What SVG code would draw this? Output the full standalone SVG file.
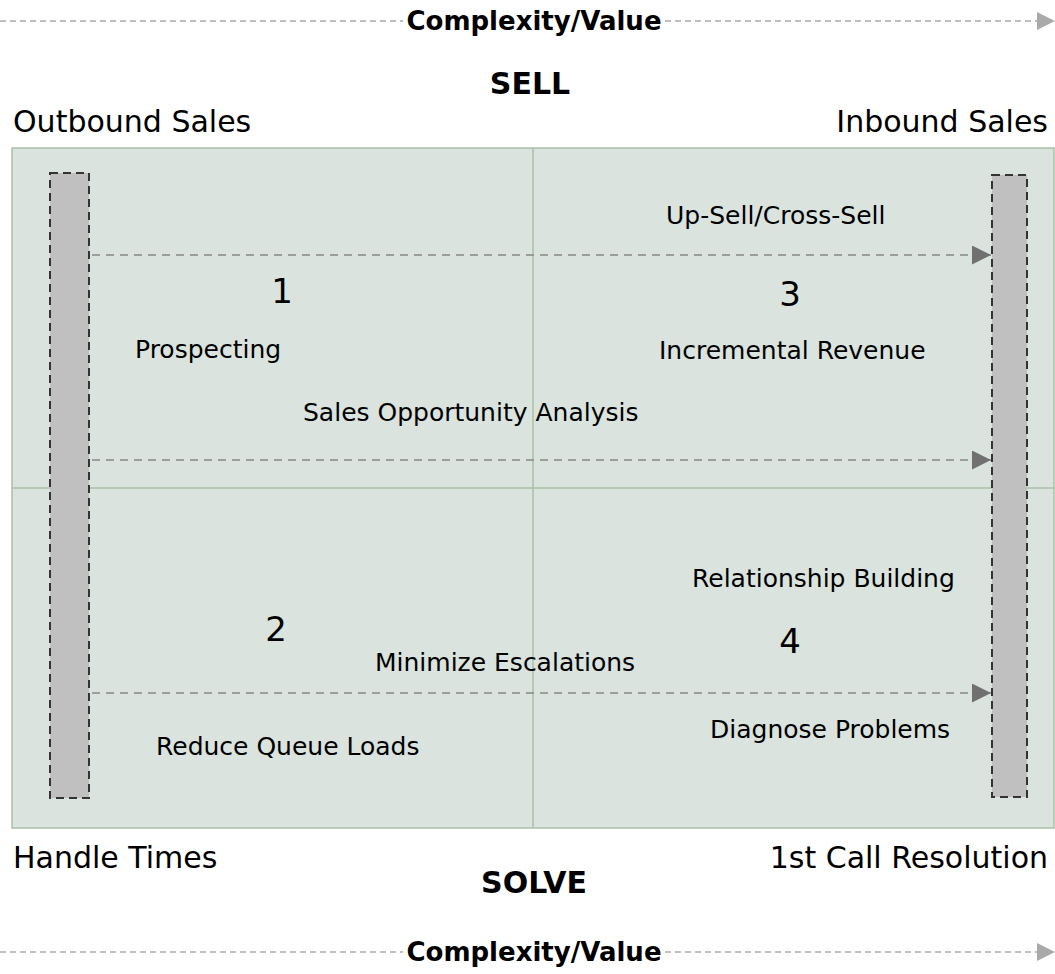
<svg xmlns="http://www.w3.org/2000/svg" width="1055" height="974" viewBox="0 0 1055 974">
<defs>
<marker id="ah" markerWidth="19" markerHeight="19" refX="19" refY="9.5" orient="auto" markerUnits="userSpaceOnUse" viewBox="0 0 19 19">
<path d="M0,0 L19,9.5 L0,19 Z" fill="#707070"/>
</marker>
<style>
text{font-family:"DejaVu Sans",Verdana,sans-serif;fill:#000}
.lbl{font-size:25px}
.big{font-size:30px}
.num{font-size:34px}
.bold{font-weight:bold}
.axis{stroke:#aaa;stroke-width:1.5;stroke-dasharray:6 4;fill:none}
.conn{stroke:#888;stroke-width:1.5;stroke-dasharray:8 6;fill:none}
.bar{fill:#c0c0c0;stroke:#333;stroke-width:2;stroke-dasharray:8 5}
.panel{fill:#dae3de;stroke:#a8c0a8;stroke-width:1.5}
.div{stroke:#a8c0a8;stroke-width:1.5}
</style>
</defs>
<rect width="1055" height="974" fill="#fff"/>

<g id="axis-top">
<line class="axis" x1="0" y1="21" x2="403" y2="21"/>
<line class="axis" x1="665" y1="21" x2="1040" y2="21"/>
<path d="M1037,12 L1055,21 L1037,30 Z" fill="#aaa"/>
<text class="bold" x="534" y="30" text-anchor="middle" style="font-size:26px">Complexity/Value</text>
</g>
<g id="axis-bottom">
<line class="axis" x1="0" y1="952" x2="403" y2="952"/>
<line class="axis" x1="665" y1="952" x2="1040" y2="952"/>
<path d="M1037,943 L1055,952 L1037,961 Z" fill="#aaa"/>
<text class="bold" x="534" y="961" text-anchor="middle" style="font-size:26px">Complexity/Value</text>
</g>

<g id="headers">
<text class="bold" x="530" y="94" text-anchor="middle" style="font-size:30px">SELL</text>
<text class="big" x="13" y="132">Outbound Sales</text>
<text class="big" x="1048" y="132" text-anchor="end">Inbound Sales</text>
<text class="big" x="13" y="868">Handle Times</text>
<text class="big" x="1048" y="868" text-anchor="end">1st Call Resolution</text>
<text class="bold" x="534" y="893" text-anchor="middle" style="font-size:30px">SOLVE</text>
</g>

<g id="panel">
<rect class="panel" x="12" y="148" width="1042" height="680"/>
<line class="div" x1="533" y1="148" x2="533" y2="828"/>
<line class="div" x1="12" y1="488" x2="1054" y2="488"/>
</g>

<g id="bar-left"><rect class="bar" x="50" y="173" width="39" height="625"/></g>
<g id="bar-right"><rect class="bar" x="992" y="175" width="35" height="622"/></g>

<g id="connectors">
<line class="conn" x1="92" y1="255" x2="991" y2="255" marker-end="url(#ah)"/>
<line class="conn" x1="92" y1="460" x2="991" y2="460" marker-end="url(#ah)"/>
<line class="conn" x1="92" y1="693" x2="991" y2="693" marker-end="url(#ah)"/>
</g>

<g id="labels">
<text class="lbl" x="666" y="224">Up-Sell/Cross-Sell</text>
<text class="num" x="282" y="303" text-anchor="middle">1</text>
<text class="num" x="790" y="306" text-anchor="middle">3</text>
<text class="lbl" x="135" y="358">Prospecting</text>
<text class="lbl" x="659" y="359">Incremental Revenue</text>
<text class="lbl" x="303" y="421">Sales Opportunity Analysis</text>
<text class="lbl" x="692" y="587">Relationship Building</text>
<text class="num" x="276" y="641" text-anchor="middle">2</text>
<text class="num" x="790" y="653" text-anchor="middle">4</text>
<text class="lbl" x="375" y="671">Minimize Escalations</text>
<text class="lbl" x="710" y="738">Diagnose Problems</text>
<text class="lbl" x="156" y="755">Reduce Queue Loads</text>
</g>
</svg>
